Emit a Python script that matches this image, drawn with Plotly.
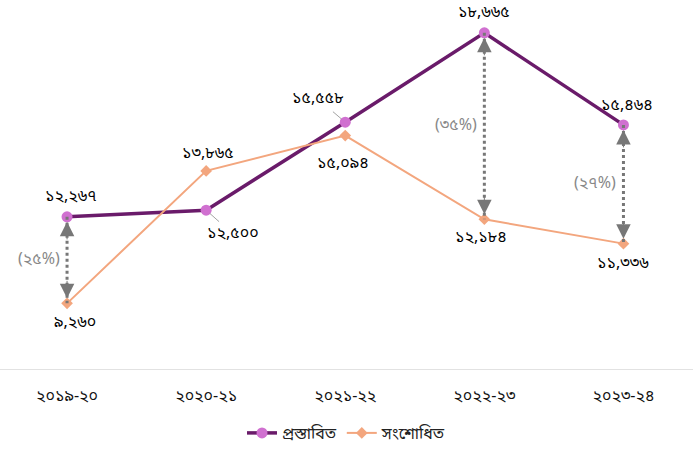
import plotly.graph_objects as go

years = ["২০১৯-২০", "২০২০-২১", "২০২১-২২", "২০২২-২৩", "২০২৩-২৪"]
proposed = [12267, 12500, 15558, 18665, 15464]
revised = [9260, 13865, 15094, 12184, 11336]
proposed_labels = ["১২,২৬৭", "১২,৫০০", "১৫,৫৫৮", "১৮,৬৬৫", "১৫,৪৬৪"]
revised_labels = ["৯,২৬০", "১৩,৮৬৫", "১৫,০৯৪", "১২,১৮৪", "১১,৩৩৬"]
gap_idx = [0, 3, 4]
gap_labels = ["(২৫%)", "(৩৫%)", "(২৭%)"]
series_names = ["প্রস্তাবিত", "সংশোধিত"]

FONT = "Noto Sans Bengali, Lohit Bengali, FreeSans, Noto Sans, sans-serif"
PURPLE = "#6a1b6a"
VIOLET = "#d070d0"
PEACH = "#f3a67e"
GREY = "#777777"

fig = go.Figure()

fig.add_trace(go.Scatter(
    x=years, y=proposed, name=series_names[0], mode="lines+markers",
    line=dict(color=PURPLE, width=3.5),
    marker=dict(symbol="circle", size=11, color=VIOLET)))
fig.add_trace(go.Scatter(
    x=years, y=revised, name=series_names[1], mode="lines+markers",
    line=dict(color=PEACH, width=2),
    marker=dict(symbol="diamond", size=9, color=PEACH)))

# dotted gap lines with arrowheads
for i in gap_idx:
    fig.add_trace(go.Scatter(
        x=[years[i], years[i]], y=[proposed[i], revised[i]],
        mode="lines", line=dict(color=GREY, width=3, dash="dot"),
        showlegend=False, hoverinfo="skip"))
    fig.add_annotation(x=years[i], y=proposed[i], text="", showarrow=True,
                       ax=0, ay=24, arrowhead=2, arrowsize=2.9, arrowwidth=1,
                       arrowcolor=GREY, standoff=5)
    fig.add_annotation(x=years[i], y=revised[i], text="", showarrow=True,
                       ax=0, ay=-24, arrowhead=2, arrowsize=2.9, arrowwidth=1,
                       arrowcolor=GREY, standoff=5)

# data labels (pixel offsets)
p_off = [(4, -20, False), (27, 24, True), (-27, -23, True), (0, -20, False), (4, -19, False)]
r_off = [(8, 20), (2, -17), (-2, 28), (-3, 19), (0, 20)]
LABEL_FONT = dict(size=16, color="#000000", family=FONT)
for i in range(5):
    dx, dy, arrow = p_off[i]
    if arrow:
        fig.add_annotation(x=years[i], y=proposed[i], text=proposed_labels[i],
                           showarrow=True, ax=dx, ay=dy, arrowhead=0, arrowwidth=0.8,
                           arrowcolor="#8a8a8a", standoff=5, font=LABEL_FONT)
    else:
        fig.add_annotation(x=years[i], y=proposed[i], text=proposed_labels[i],
                           showarrow=False, xshift=dx, yshift=-dy, font=LABEL_FONT)
    dx, dy = r_off[i]
    fig.add_annotation(x=years[i], y=revised[i], text=revised_labels[i],
                       showarrow=False, xshift=dx, yshift=-dy, font=LABEL_FONT)

for i, lab in zip(gap_idx, gap_labels):
    fig.add_annotation(x=years[i], y=(proposed[i] + revised[i]) / 2, text=lab,
                       showarrow=False, xanchor="right", xshift=-5,
                       font=dict(size=16, color="#888888", family=FONT))

fig.update_layout(
    width=693, height=450,
    margin=dict(l=0, r=0, t=0, b=79),
    paper_bgcolor="white", plot_bgcolor="white",
    font=dict(family=FONT, size=14, color="#222222"),
    xaxis=dict(type="category", categoryorder="array", categoryarray=years,
               range=[-0.482, 4.5], showgrid=False, zeroline=False,
               showline=True, linecolor="#e2e2e2", linewidth=1,
               ticks="", ticklabelstandoff=12, tickfont=dict(size=16, color="#111111")),
    yaxis=dict(range=[6978, 19806], visible=False, showgrid=False, zeroline=False),
    legend=dict(orientation="h", x=0.5, xanchor="center", y=-0.175, yanchor="middle",
                font=dict(size=16, color="#222222"), itemwidth=30),
    showlegend=True,
)

fig.write_html("out.html")
